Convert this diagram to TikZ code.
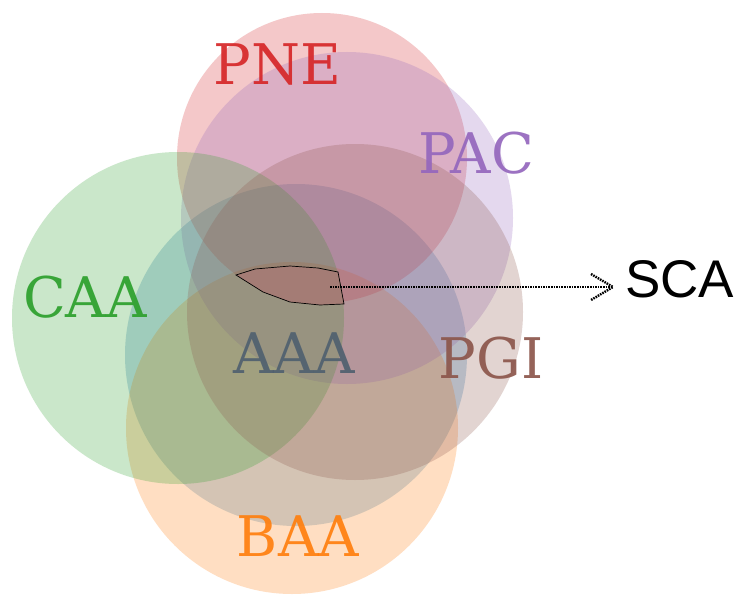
\documentclass[tikz,border=0pt]{standalone}
\usepackage{fontspec}
\newfontfamily\lblserif{DejaVu Serif}
\newfontfamily\lblsans{Liberation Sans}
\usetikzlibrary{calc}
\definecolor{tred}{RGB}{214,39,40}
\definecolor{tpurple}{RGB}{148,103,189}
\definecolor{tgreen}{RGB}{44,160,44}
\definecolor{tblue}{RGB}{31,119,180}
\definecolor{tbrown}{RGB}{140,86,75}
\definecolor{torange}{RGB}{255,127,14}
\definecolor{aaatext}{RGB}{80,96,111}
\definecolor{scafill}{RGB}{164,124,117}
\tikzset{
  setcircle/.style={circle, inner sep=0pt, minimum size=#1, fill opacity=0.25, draw=none},
  setlabel/.style={anchor=base, inner sep=0pt, text opacity=0.92, font=\lblserif\fontsize{56}{60}\selectfont},
  dotline/.style={line width=2pt, dash pattern=on 1.6pt off 1pt},
}
\begin{document}
\begin{tikzpicture}[x=1pt,y=-1pt]
\fill[white] (0,0) rectangle (741,594);
\useasboundingbox (0,0) rectangle (741,594);
% circles
\node[setcircle=342pt, fill=tblue] (caaa) at (296,355) {};
\node[setcircle=332pt, fill=torange] (cbaa) at (292,428) {};
\node[setcircle=290pt, fill=tred] (cpne) at (322,158) {};
\node[setcircle=332pt, fill=tpurple] (cpac) at (347,218) {};
\node[setcircle=332pt, fill=tgreen] (ccaa) at (178,318) {};
\node[setcircle=336pt, fill=tbrown] (cpgi) at (355,312) {};
% labels
\node[setlabel, text=tred] (lpne) at (277.5,84) {PNE};
\node[setlabel, text=tpurple] (lpac) at (476,173) {PAC};
\node[setlabel, text=tgreen] (lcaa) at (85,317) {CAA};
\node[setlabel, text=aaatext] (laaa) at (294,373) {AAA};
\node[setlabel, text=tbrown] (lpgi) at (491,378) {PGI};
\node[setlabel, text=torange] (lbaa) at (298,556) {BAA};
% SCA region
\draw[black, line width=0.7pt, fill=scafill] (236,275) -- (255,269) -- (290,266) -- (318,268) -- (338,272) -- (344,304) -- (320,305) -- (290,302) -- (263,292) -- cycle;
% arrow to SCA
\node[anchor=base west, inner sep=0pt, font=\lblsans\fontsize{53}{57}\selectfont] (sca) at (625,297) {SCA};
\coordinate (scastart) at (330,287);
\coordinate (tip) at (613,287);
\draw[dotline] (scastart) -- (tip);
\draw[dotline, line width=2.4pt] ($(tip)+(-22,-13)$) -- (tip) -- ($(tip)+(-22,13)$);
\end{tikzpicture}
\end{document}
